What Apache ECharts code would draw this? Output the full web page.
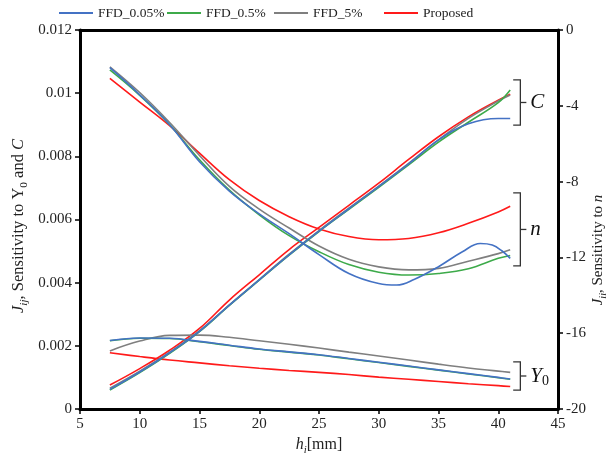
<!DOCTYPE html>
<html><head><meta charset="utf-8">
<script src="https://cdn.jsdelivr.net/npm/echarts@6/dist/echarts.min.js"></script>
<style>html,body{margin:0;padding:0;background:#fff;overflow:hidden}#c{width:612px;height:455px}</style>
</head><body><div id="c"></div>
<script>
// ---------- data ----------
const seriesNames = ['FFD_0.05%', 'FFD_0.5%', 'FFD_5%', 'Proposed'];
const xTicks = [5, 10, 15, 20, 25, 30, 35, 40, 45];
const leftTicks = [0, 0.002, 0.004, 0.006, 0.008, 0.01, 0.012];
const rightTicks = [-20, -16, -12, -8, -4, 0];

const xGrid = [7.5, 10, 12.5, 15, 17.5, 20, 22.5, 25, 27.5, 30, 32.5, 35, 37.5, 40, 41];
const xBlueN = [7.5, 10, 12.5, 15, 17.5, 20, 22.5, 25, 27.5, 30, 31.5, 33, 35, 37, 38.5, 39.5, 40.3, 41];

// sensitivity to C (left axis)
const cBlue  = [0.00062, 0.00117, 0.00178, 0.00246, 0.00329, 0.00409, 0.00488, 0.00563, 0.00634, 0.00704, 0.00776, 0.00852, 0.00903, 0.0092, 0.0092];
const cGreen = [0.0006, 0.00115, 0.00176, 0.00245, 0.00328, 0.00408, 0.00487, 0.00562, 0.00632, 0.00702, 0.00773, 0.00845, 0.00908, 0.0097, 0.0101];
const cGray  = [0.00066, 0.0012, 0.0018, 0.00248, 0.0033, 0.0041, 0.0049, 0.00565, 0.00636, 0.00706, 0.00778, 0.00852, 0.0092, 0.00975, 0.00994];
const cRed   = [0.00076, 0.00128, 0.00186, 0.00255, 0.00345, 0.00425, 0.00505, 0.00575, 0.00645, 0.00715, 0.0079, 0.00862, 0.00925, 0.00978, 0.00997];

// sensitivity to n (right axis)
const nBlue  = [-1.99, -3.42, -5.0, -6.95, -8.5, -9.7, -10.75, -11.85, -12.85, -13.38, -13.46, -13.15, -12.49, -11.7, -11.27, -11.35, -11.65, -12.05];
const nGreen = [-2.11, -3.45, -5.0, -6.85, -8.45, -9.75, -10.85, -11.7, -12.38, -12.78, -12.93, -12.85, -12.6, -12.05, -11.9];
const nGray  = [-1.94, -3.3, -4.88, -6.62, -8.25, -9.45, -10.45, -11.4, -12.1, -12.5, -12.66, -12.58, -12.2, -11.8, -11.6];
const nRed   = [-2.55, -3.8, -5.05, -6.5, -7.9, -9.0, -9.85, -10.5, -10.9, -11.07, -11.0, -10.7, -10.2, -9.6, -9.3];

// sensitivity to Y0 (left axis)
const yBlue  = [0.00217, 0.00225, 0.00224, 0.00214, 0.00202, 0.0019, 0.00181, 0.00172, 0.0016, 0.00148, 0.00136, 0.00124, 0.00112, 0.001, 0.00095];
const yGreen = [0.00216, 0.00224, 0.00223, 0.00213, 0.00201, 0.00189, 0.0018, 0.00171, 0.00159, 0.00147, 0.00135, 0.00123, 0.00111, 0.00099, 0.00094];
const yGray  = [0.00184, 0.00215, 0.00233, 0.00234, 0.00227, 0.00216, 0.00205, 0.00193, 0.0018, 0.00168, 0.00155, 0.00142, 0.0013, 0.0012, 0.00116];
const yRed   = [0.00178, 0.00166, 0.00155, 0.00146, 0.00137, 0.00129, 0.00122, 0.00116, 0.00109, 0.00101, 0.00094, 0.00087, 0.0008, 0.00074, 0.00071];

// bracket annotations: [label, axis, top value, bottom value]
const brackets = [
  ['C', 0, 0.01042, 0.00899],
  ['n', 1, -8.6, -12.45],
  ['Y0', 0, 0.00149, 0.0006]
];
const bracketX = [41.25, 41.85];

// ---------- styling ----------
const colors = ['#4472C4', '#3DAA4A', '#7F7F7F', '#FF1A1A'];
const FONT = '"Liberation Serif", "Times New Roman", serif';
const legendLeft = [59, 167, 274, 384];

function pairs(xs, ys) { return xs.map((x, i) => [x, ys[i]]); }
function line(idx, xs, ys, yAxisIndex) {
  return {
    name: seriesNames[idx], type: 'line', xAxisIndex: 0, yAxisIndex: yAxisIndex,
    data: pairs(xs, ys), smooth: 0.4, symbol: 'none', silent: true,
    lineStyle: { color: colors[idx], width: 1.6 }, itemStyle: { color: colors[idx] },
    z: 3 + (3 - idx)
  };
}

const series = [
  line(0, xGrid, cBlue, 0), line(1, xGrid, cGreen, 0), line(2, xGrid, cGray, 0), line(3, xGrid, cRed, 0),
  line(0, xBlueN, nBlue, 1), line(1, xGrid, nGreen, 1), line(2, xGrid, nGray, 1), line(3, xGrid, nRed, 1),
  line(2, xGrid, yGray, 0), line(0, xGrid, yBlue, 0), line(1, xGrid, yGreen, 0), line(3, xGrid, yRed, 0)
];

function richSet(fs) {
  return {
    n: { fontFamily: FONT, fontSize: fs, fill: '#222', color: '#222', lineHeight: fs + 5 },
    i: { fontFamily: FONT, fontSize: fs, fontStyle: 'italic', fill: '#222', color: '#222', lineHeight: fs + 5 },
    sub: { fontFamily: FONT, fontSize: fs * 0.68, fontStyle: 'italic', fill: '#222', color: '#222', verticalAlign: 'bottom', lineHeight: fs - 1 },
    sub0: { fontFamily: FONT, fontSize: fs * 0.68, fill: '#222', color: '#222', verticalAlign: 'bottom', lineHeight: fs - 1 }
  };
}

const axisLine = { show: true, onZero: false, lineStyle: { color: '#000', width: 3 } };
const axisTick = { show: true, inside: false, length: 5, lineStyle: { color: '#000', width: 1.5 } };
const axisLabel = { fontFamily: FONT, fontSize: 15, color: '#222', margin: 8 };

const chart = echarts.init(document.getElementById('c'), null, { renderer: 'canvas' });
chart.setOption({
  animation: false,
  backgroundColor: '#fff',
  grid: { left: 80, right: 54, top: 30, bottom: 46, containLabel: false, outerBoundsMode: 'none' },
  legend: seriesNames.map((nm, i) => ({
    data: [nm], left: legendLeft[i], top: 6, padding: 0, icon: 'rect', itemWidth: 34, itemHeight: 2, itemGap: 0,
    selectedMode: false, textStyle: { fontFamily: FONT, fontSize: 13.5, color: '#222' }
  })),
  xAxis: [{
    type: 'value', min: xTicks[0], max: xTicks[xTicks.length - 1], interval: xTicks[1] - xTicks[0],
    axisLine, axisTick, axisLabel, splitLine: { show: false },
    name: '{i|h}{sub|i}{n|[mm]}', nameLocation: 'middle', nameGap: 22,
    nameTextStyle: { rich: richSet(16) }
  }, {
    type: 'value', position: 'top', min: xTicks[0], max: xTicks[xTicks.length - 1],
    axisLine, axisTick: { show: false }, axisLabel: { show: false }, splitLine: { show: false }
  }],
  yAxis: [{
    type: 'value', position: 'left', min: leftTicks[0], max: leftTicks[leftTicks.length - 1],
    interval: leftTicks[1] - leftTicks[0],
    axisLine, axisTick, axisLabel, splitLine: { show: false }
  }, {
    type: 'value', position: 'right', min: rightTicks[0], max: rightTicks[rightTicks.length - 1],
    interval: rightTicks[1] - rightTicks[0],
    axisLine, axisTick, axisLabel, splitLine: { show: false }
  }],
  series
});

// axis titles (vertical) and bracket annotations
const g = [];
g.push({ type: 'text', x: 19, y: 226, rotation: Math.PI / 2, silent: true,
  style: { text: '{i|J}{sub|ij}{n|, Sensitivity to Y}{sub0|0}{n| and }{i|C}', align: 'center', verticalAlign: 'middle', rich: richSet(16.5) } });
g.push({ type: 'text', x: 598, y: 250, rotation: Math.PI / 2, silent: true,
  style: { text: '{i|J}{sub|ii}{n|, Sensitivity to }{i|n}', align: 'center', verticalAlign: 'middle', rich: richSet(15) } });

brackets.forEach(([lab, ax, vTop, vBot]) => {
  const p0 = chart.convertToPixel({ xAxisIndex: 0, yAxisIndex: ax }, [bracketX[0], vTop]);
  const p1 = chart.convertToPixel({ xAxisIndex: 0, yAxisIndex: ax }, [bracketX[1], vBot]);
  const xa = p0[0], xb = p1[0], ya = p0[1], yb = p1[1], ym = (ya + yb) / 2;
  g.push({ type: 'polyline', shape: { points: [[xa, ya], [xb, ya], [xb, yb], [xa, yb]] },
    style: { stroke: '#333', lineWidth: 1.3, fill: null }, silent: true });
  g.push({ type: 'line', shape: { x1: xb, y1: ym, x2: xb + 6, y2: ym },
    style: { stroke: '#333', lineWidth: 1.3 }, silent: true });
  const txt = lab === 'Y0' ? '{i|Y}{s|0}' : '{i|' + lab + '}';
  g.push({ type: 'text', x: xb + 10, y: ym, silent: true,
    style: { text: txt, verticalAlign: 'middle', align: 'left',
      rich: { i: { fontFamily: FONT, fontSize: 21, fontStyle: 'italic', fill: '#111', lineHeight: 24 },
              s: { fontFamily: FONT, fontSize: 14, fill: '#111', verticalAlign: 'bottom', lineHeight: 17 } } } });
});
chart.setOption({ graphic: g });
</script>
</body></html>
